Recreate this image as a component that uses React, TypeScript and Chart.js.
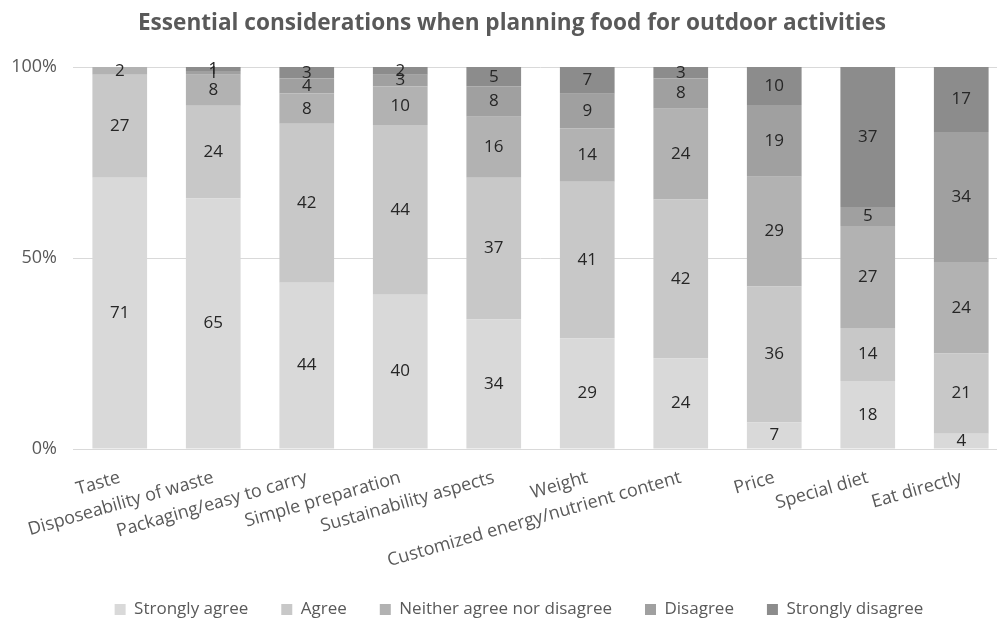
import React, { useEffect, useRef } from "react";
import { Chart, registerables } from "chart.js";

Chart.register(...registerables);

const categories = [
  "Taste",
  "Disposeability of waste",
  "Packaging/easy to carry",
  "Simple preparation",
  "Sustainability aspects",
  "Weight",
  "Customized energy/nutrient content",
  "Price",
  "Special diet",
  "Eat directly",
];

const stronglyAgree = [71, 65, 44, 40, 34, 29, 24, 7, 18, 4];
const agree = [27, 24, 42, 44, 37, 41, 42, 36, 14, 21];
const neither = [2, 8, 8, 10, 16, 14, 24, 29, 27, 24];
const disagree = [0, 1, 4, 3, 8, 9, 8, 19, 5, 34];
const stronglyDisagree = [0, 1, 3, 2, 5, 7, 3, 10, 37, 17];

const seriesNames = [
  "Strongly agree",
  "Agree",
  "Neither agree nor disagree",
  "Disagree",
  "Strongly disagree",
];
const seriesColors = ["#d9d9d9", "#c8c8c8", "#b2b2b2", "#a0a0a0", "#8c8c8c"];
const yTickLabels: Record<number, string> = { 0: "0%", 50: "50%", 100: "100%" };

const FONT = "'Open Sans', sans-serif";

export default function App() {
  const ref = useRef<HTMLCanvasElement | null>(null);

  useEffect(() => {
    if (!ref.current) return;
    const raw = [stronglyAgree, agree, neither, disagree, stronglyDisagree];
    const totals = categories.map((_, i) => raw.reduce((s, arr) => s + arr[i], 0));

    const labelPlugin = {
      id: "segLabels",
      afterDatasetsDraw(chart: any) {
        const ctx = chart.ctx;
        ctx.save();
        ctx.font = `17px ${FONT}`;
        ctx.fillStyle = "#262626";
        ctx.textAlign = "center";
        ctx.textBaseline = "middle";
        chart.data.datasets.forEach((ds: any, di: number) => {
          const meta = chart.getDatasetMeta(di);
          meta.data.forEach((bar: any, i: number) => {
            const v = ds.rawValues[i];
            if (!v) return;
            const yc = (bar.y + bar.base) / 2;
            ctx.fillText(String(v), bar.x, yc);
          });
        });
        ctx.restore();
      },
    };

    const shiftPlugin = {
      id: "shiftBlocks",
      afterLayout(chart: any) {
        if (chart.legend) {
          chart.legend.left += 15;
          chart.legend.right += 15;
        }
        if (chart.titleBlock) {
          chart.titleBlock.left += 8;
          chart.titleBlock.right += 8;
        }
      },
    };

    const chart = new Chart(ref.current, {
      type: "bar",
      data: {
        labels: categories,
        datasets: raw.map((arr, k) => ({
          label: seriesNames[k],
          data: arr.map((v, i) => (v / totals[i]) * 100),
          rawValues: arr,
          backgroundColor: seriesColors[k],
          borderWidth: 0,
          categoryPercentage: 1,
          barPercentage: 0.585,
        })) as any,
      },
      options: {
        animation: false,
        responsive: false,
        maintainAspectRatio: false,
        layout: { padding: { left: 0, right: 0, top: 0, bottom: 0 } },
        plugins: {
          title: {
            display: true,
            text: "Essential considerations when planning food for outdoor activities",
            font: { family: FONT, size: 22.6, weight: "bold" },
            color: "#595959",
            padding: { top: 10, bottom: 30 },
          },
          legend: {
            position: "bottom",
            labels: {
              boxWidth: 11,
              boxHeight: 11,
              font: { family: FONT, size: 17 },
              color: "#595959",
              padding: 33,
            },
          },
          tooltip: { enabled: false },
        },
        scales: {
          x: {
            stacked: true,
            grid: { display: false },
            border: { color: "#d9d9d9" },
            afterFit: (scale: any) => {
              scale.height = 119;
            },
            ticks: {
              minRotation: 16,
              maxRotation: 16,
              autoSkip: false,
              font: { family: FONT, size: 18 },
              color: "#595959",
              padding: 10,
            },
          },
          y: {
            stacked: true,
            min: 0,
            max: 100,
            grid: { color: "#d9d9d9", drawTicks: false },
            border: { display: false },
            afterFit: (scale: any) => {
              scale.width = 73;
            },
            ticks: {
              stepSize: 50,
              font: { family: FONT, size: 18 },
              color: "#595959",
              padding: 16,
              callback: (v: any) => yTickLabels[v] ?? "",
            },
          },
        },
      },
      plugins: [labelPlugin, shiftPlugin],
    });
    return () => chart.destroy();
  }, []);

  return (
    <div
      style={{
        position: "fixed",
        left: 0,
        top: 0,
        width: 997,
        height: 621,
        overflow: "hidden",
        background: "#fff",
      }}
    >
      <canvas ref={ref} width={1008} height={628} style={{ display: "block" }} />
    </div>
  );
}
